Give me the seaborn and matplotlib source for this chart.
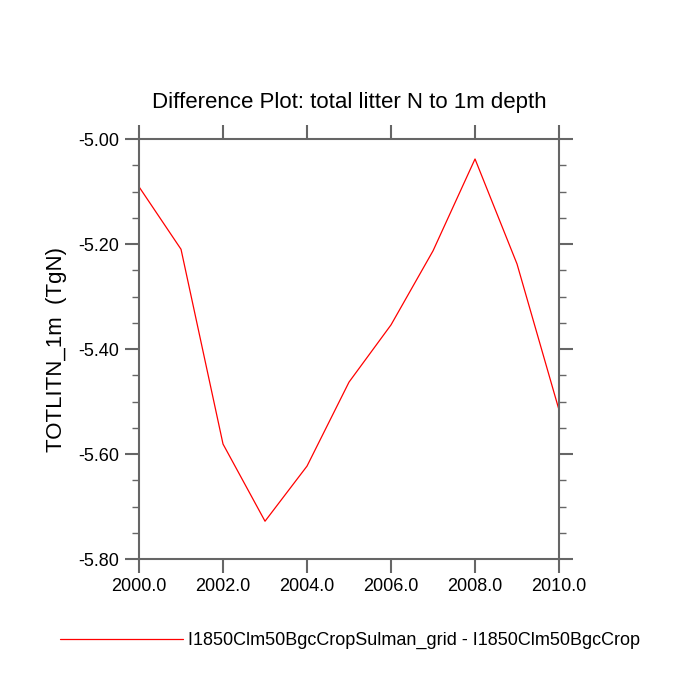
import matplotlib
matplotlib.use('Agg')
import matplotlib.pyplot as plt
import seaborn as sns
import pandas as pd
import numpy as np
from matplotlib.ticker import MultipleLocator, FormatStrFormatter

# Data
years = [2000, 2001, 2002, 2003, 2004, 2005, 2006, 2007, 2008, 2009, 2010]
totlitn = [-5.091, -5.210, -5.581, -5.728, -5.623, -5.463, -5.354, -5.213, -5.038, -5.238, -5.516]
series_label = 'I1850Clm50BgcCropSulman_grid - I1850Clm50BgcCrop'

df = pd.DataFrame({'year': years, 'value': totlitn})

sns.set_style('white')
plt.rcParams['font.family'] = ['Liberation Sans', 'DejaVu Sans']
plt.rcParams['text.color'] = 'black'
plt.rcParams['axes.labelcolor'] = 'black'
plt.rcParams['xtick.color'] = 'black'
plt.rcParams['ytick.color'] = 'black'

fig = plt.figure(figsize=(7, 7), dpi=100)
ax = fig.add_axes([0.1986, 0.2014, 0.6, 0.6])

sns.lineplot(data=df, x='year', y='value', color='red', linewidth=0.9, ax=ax, label=series_label, legend=False)

ax.set_xlim(2000, 2010)
ax.set_ylim(-5.8, -5.0)
ax.xaxis.set_major_locator(MultipleLocator(2))
ax.xaxis.set_major_formatter(FormatStrFormatter('%.1f'))
ax.yaxis.set_major_locator(MultipleLocator(0.2))
ax.yaxis.set_minor_locator(MultipleLocator(0.05))
ax.yaxis.set_major_formatter(FormatStrFormatter('%.2f'))

for s in ax.spines.values():
    s.set_color('#666666')
    s.set_linewidth(1.5)
ax.tick_params(which='major', direction='out', length=10, width=1.5, color='#666666',
               labelcolor='black', labelsize=13, bottom=True, left=True, top=True, right=True, pad=4)
ax.tick_params(axis='y', which='minor', direction='out', length=5, width=1, color='#666666',
               left=True, right=True)
ax.tick_params(axis='x', which='minor', bottom=False, top=False)

ax.set_title('Difference Plot: total litter N to 1m depth', fontsize=16, pad=22, color='black')
ax.set_xlabel('')
ax.set_ylabel('TOTLITN_1m  (TgN)', fontsize=16, labelpad=8, color='black')

handles, labels = ax.get_legend_handles_labels()
fig.legend(handles, labels, loc='center', bbox_to_anchor=(0.5, 0.085), frameon=False,
           fontsize=13, handlelength=6.8, handletextpad=0.3)

fig.savefig('out.png', dpi=100, facecolor='white')
